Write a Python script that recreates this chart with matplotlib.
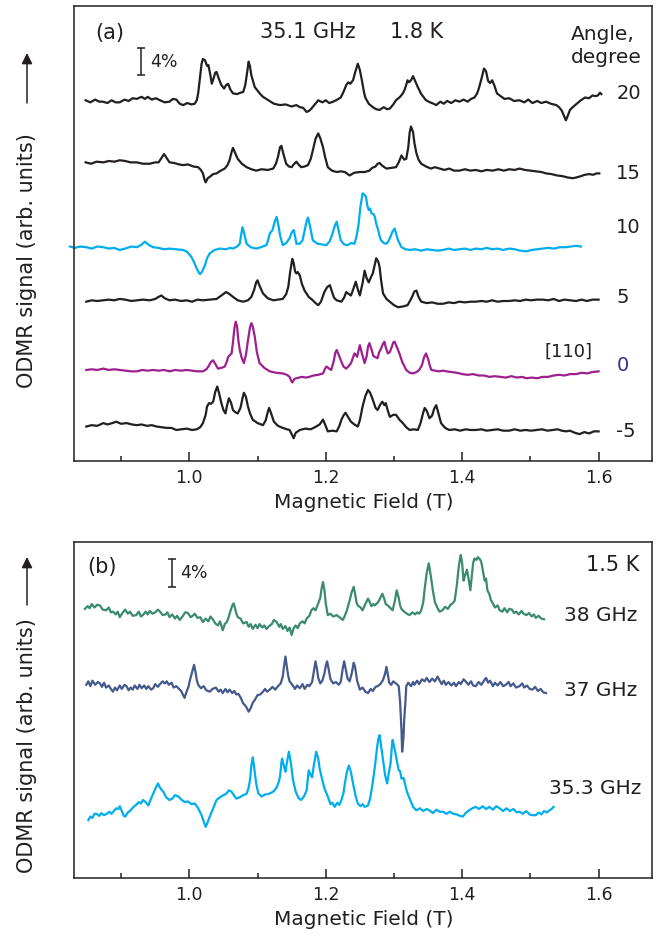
import matplotlib.pyplot as plt

plt.rcParams['font.family'] = ['DejaVu Sans']

INK = '#231f20'
CYAN = '#00aeef'
PURPLE = '#9e1f8e'
NAVY = '#2e3192'
GREEN = '#3a8a72'
SLATE = '#45598c'

# (a) 35.1 GHz, 1.8 K -- (field T, signal %) relative to each trace's baseline
angle_20 = [(0.848, 0.0), (0.855, -0.3), (0.862, 0.1), (0.868, -0.2), (0.873, -0.2), (0.880, -0.4),
            (0.886, 0.0), (0.892, -0.3), (0.898, -0.3), (0.905, 0.1), (0.911, -0.1), (0.917, 0.3),
            (0.923, 0.2), (0.930, 0.5), (0.935, 0.2), (0.939, 0.5), (0.945, 0.1), (0.951, 0.3),
            (0.957, 0.0), (0.964, -0.3), (0.971, -0.2), (0.976, 0.2), (0.981, 0.1), (0.986, -0.5),
            (0.991, -0.7), (0.997, -0.4), (1.003, -0.6), (1.008, -0.5), (1.011, 0.0), (1.013, 1.0),
            (1.016, 3.5), (1.018, 5.3), (1.020, 6.0), (1.023, 5.8), (1.026, 5.0), (1.028, 5.1),
            (1.031, 3.6), (1.033, 2.4), (1.036, 3.3), (1.038, 4.0), (1.040, 4.1), (1.043, 3.2),
            (1.047, 2.2), (1.051, 1.7), (1.054, 2.2), (1.057, 2.4), (1.060, 1.6), (1.064, 1.0),
            (1.070, 0.9), (1.075, 1.1), (1.079, 1.2), (1.082, 2.2), (1.084, 3.5), (1.087, 5.6),
            (1.089, 4.9), (1.091, 3.6), (1.094, 2.6), (1.096, 1.9), (1.100, 1.4), (1.104, 0.9),
            (1.108, 0.5), (1.116, 0.0), (1.124, -0.5), (1.133, -0.7), (1.141, -0.6), (1.150, -0.9),
            (1.157, -0.7), (1.162, -1.0), (1.167, -1.1), (1.172, -1.7), (1.176, -1.5), (1.179, -1.2),
            (1.184, -0.6), (1.189, 0.0), (1.195, -0.3), (1.200, 0.0), (1.205, -0.4), (1.211, -0.2),
            (1.217, 0.1), (1.222, 0.4), (1.226, 1.2), (1.230, 2.2), (1.233, 2.6), (1.236, 2.4),
            (1.240, 2.9), (1.243, 4.0), (1.247, 5.3), (1.250, 4.4), (1.253, 2.9), (1.256, 1.2),
            (1.258, 0.4), (1.263, -0.5), (1.269, -1.0), (1.274, -1.3), (1.279, -1.4), (1.285, -1.0),
            (1.290, -1.3), (1.294, -1.2), (1.299, -0.6), (1.303, 0.0), (1.309, 0.5), (1.313, 1.0),
            (1.316, 1.6), (1.320, 2.9), (1.322, 2.6), (1.325, 2.9), (1.328, 3.5), (1.331, 2.8),
            (1.335, 1.9), (1.340, 0.9), (1.347, 0.0), (1.353, -0.3), (1.358, -0.5), (1.362, -0.7),
            (1.368, -0.2), (1.373, -0.5), (1.378, -0.1), (1.384, -0.4), (1.390, 0.0), (1.396, -0.2),
            (1.402, 0.1), (1.408, -0.2), (1.413, 0.2), (1.418, 0.4), (1.422, 1.0), (1.425, 1.9),
            (1.429, 3.4), (1.432, 4.6), (1.435, 4.2), (1.438, 2.8), (1.441, 2.5), (1.444, 2.9),
            (1.447, 2.2), (1.451, 1.0), (1.455, 0.7), (1.462, 0.2), (1.469, 0.3), (1.476, -0.1),
            (1.484, 0.0), (1.491, -0.3), (1.497, 0.1), (1.503, -0.4), (1.510, -0.1), (1.516, -0.4),
            (1.523, -0.2), (1.530, -0.5), (1.538, -0.7), (1.542, -1.0), (1.546, -1.5), (1.549, -2.2),
            (1.552, -2.9), (1.555, -2.2), (1.558, -1.4), (1.562, -1.0), (1.568, -0.5), (1.574, 0.0),
            (1.580, 0.4), (1.586, 0.3), (1.591, 0.7), (1.595, 0.6), (1.599, 0.7), (1.602, 1.1),
            (1.604, 0.9)]
angle_15 = [(0.848, 0.0), (0.856, -0.2), (0.864, 0.1), (0.874, 0.0), (0.882, 0.2), (0.890, 0.1),
            (0.898, 0.3), (0.906, 0.2), (0.914, 0.0), (0.923, 0.0), (0.932, -0.2), (0.942, -0.2),
            (0.950, 0.0), (0.955, 0.0), (0.959, 0.6), (0.963, 1.2), (0.967, 0.6), (0.971, 0.0),
            (0.978, -0.1), (0.985, -0.3), (0.991, -0.4), (0.998, -0.3), (1.006, -0.6), (1.013, -0.7),
            (1.017, -1.1), (1.020, -1.6), (1.022, -2.4), (1.024, -2.9), (1.027, -2.3), (1.030, -2.1),
            (1.035, -1.7), (1.040, -1.6), (1.046, -1.2), (1.052, -0.9), (1.056, -0.4), (1.059, 0.3),
            (1.062, 1.5), (1.064, 2.1), (1.067, 1.4), (1.071, 0.5), (1.077, -0.2), (1.084, -0.7),
            (1.091, -1.0), (1.098, -1.2), (1.106, -1.0), (1.115, -1.1), (1.123, -0.9), (1.127, -0.2),
            (1.130, 0.8), (1.133, 2.2), (1.135, 2.4), (1.138, 1.2), (1.142, -0.2), (1.146, -0.6),
            (1.150, -0.7), (1.153, -0.3), (1.157, 0.1), (1.160, -0.3), (1.164, -0.7), (1.169, -0.6),
            (1.174, -0.4), (1.178, 0.5), (1.181, 1.7), (1.185, 3.4), (1.189, 4.2), (1.192, 3.5),
            (1.196, 2.2), (1.199, 0.8), (1.203, -0.7), (1.209, -1.2), (1.216, -1.4), (1.222, -1.3),
            (1.228, -1.4), (1.235, -1.9), (1.242, -1.5), (1.250, -1.4), (1.257, -1.4), (1.264, -1.2),
            (1.268, -0.8), (1.273, -0.6), (1.276, -0.2), (1.279, -0.1), (1.283, -0.5), (1.289, -0.9),
            (1.296, -0.8), (1.303, -0.7), (1.307, 0.0), (1.311, 1.0), (1.315, 0.4), (1.318, 0.5),
            (1.321, 2.2), (1.323, 4.3), (1.325, 5.2), (1.328, 4.4), (1.330, 2.8), (1.333, 1.3),
            (1.336, 0.4), (1.340, -0.2), (1.347, -0.6), (1.354, -0.9), (1.360, -0.7), (1.367, -0.9),
            (1.374, -1.1), (1.381, -0.9), (1.388, -1.2), (1.396, -1.2), (1.404, -1.0), (1.412, -1.2),
            (1.420, -1.1), (1.428, -1.3), (1.436, -1.1), (1.445, -1.2), (1.453, -1.0), (1.461, -1.2),
            (1.469, -1.0), (1.477, -1.1), (1.484, -0.9), (1.492, -1.1), (1.500, -1.2), (1.508, -1.3),
            (1.516, -1.4), (1.523, -1.6), (1.531, -1.7), (1.539, -1.9), (1.547, -2.0), (1.555, -2.2),
            (1.562, -2.3), (1.567, -2.2), (1.574, -2.0), (1.580, -1.8), (1.586, -1.7), (1.592, -1.8),
            (1.597, -1.6), (1.601, -1.6)]
angle_10 = [(0.825, 0.1), (0.832, -0.1), (0.840, 0.1), (0.849, 0.0), (0.857, -0.2), (0.865, 0.1),
            (0.874, 0.0), (0.882, -0.2), (0.890, -0.1), (0.898, -0.4), (0.906, -0.2), (0.915, 0.1),
            (0.923, 0.0), (0.929, 0.3), (0.935, 0.8), (0.941, 0.3), (0.947, 0.0), (0.955, -0.1),
            (0.963, -0.3), (0.971, -0.2), (0.980, -0.3), (0.991, -0.4), (0.997, -0.7), (1.003, -1.4),
            (1.007, -2.2), (1.011, -3.1), (1.014, -3.7), (1.016, -3.9), (1.019, -3.5), (1.023, -2.6),
            (1.026, -1.6), (1.030, -0.9), (1.037, -0.4), (1.045, -0.2), (1.053, -0.3), (1.060, -0.1),
            (1.064, -0.2), (1.070, 0.1), (1.074, 0.5), (1.076, 1.8), (1.078, 2.9), (1.080, 2.2),
            (1.084, 0.5), (1.090, 0.0), (1.098, -0.2), (1.105, 0.0), (1.113, 0.3), (1.116, 1.2),
            (1.118, 2.0), (1.122, 2.5), (1.125, 3.6), (1.128, 4.4), (1.131, 3.0), (1.133, 1.7),
            (1.137, 0.3), (1.142, 0.6), (1.147, 1.3), (1.150, 2.1), (1.153, 2.5), (1.155, 1.6),
            (1.157, 0.5), (1.162, 0.5), (1.166, 1.0), (1.169, 2.4), (1.172, 3.8), (1.174, 4.3),
            (1.177, 3.0), (1.181, 1.0), (1.188, 0.5), (1.195, 0.4), (1.201, 0.3), (1.206, 0.9),
            (1.209, 1.7), (1.213, 3.0), (1.216, 3.7), (1.219, 2.4), (1.222, 1.0), (1.227, 0.4),
            (1.232, 0.3), (1.237, 0.6), (1.242, 0.5), (1.245, 1.5), (1.248, 3.2), (1.251, 6.0),
            (1.254, 7.8), (1.257, 7.6), (1.259, 7.3), (1.261, 6.0), (1.263, 5.4), (1.265, 5.6),
            (1.267, 4.9), (1.270, 4.8), (1.272, 4.4), (1.274, 3.4), (1.276, 2.8), (1.279, 1.6),
            (1.281, 1.0), (1.285, 0.6), (1.289, 0.5), (1.292, 0.9), (1.294, 1.3), (1.298, 2.3),
            (1.301, 2.7), (1.303, 2.0), (1.306, 1.0), (1.311, 0.0), (1.317, -0.3), (1.323, -0.4),
            (1.331, -0.3), (1.340, -0.5), (1.348, -0.3), (1.356, -0.4), (1.364, -0.5), (1.372, -0.4),
            (1.380, -0.2), (1.388, -0.4), (1.396, -0.3), (1.404, -0.2), (1.412, -0.4), (1.420, -0.2),
            (1.428, -0.3), (1.436, -0.1), (1.444, -0.3), (1.452, -0.2), (1.460, -0.4), (1.469, -0.2),
            (1.477, -0.3), (1.485, -0.5), (1.494, -0.6), (1.502, -0.4), (1.510, -0.3), (1.518, -0.2),
            (1.526, -0.1), (1.535, -0.2), (1.543, 0.0), (1.552, 0.0), (1.560, 0.1), (1.567, 0.2),
            (1.574, 0.1)]
angle_5 = [(0.849, -0.2), (0.857, 0.0), (0.865, -0.1), (0.874, 0.0), (0.882, 0.1), (0.890, 0.0),
           (0.898, 0.2), (0.906, 0.1), (0.915, -0.1), (0.923, 0.0), (0.932, 0.1), (0.942, 0.0),
           (0.950, 0.2), (0.955, 0.5), (0.959, 0.7), (0.964, 0.3), (0.971, 0.0), (0.979, 0.1),
           (0.988, -0.1), (0.996, 0.0), (1.004, -0.2), (1.012, 0.1), (1.020, 0.0), (1.030, 0.1),
           (1.040, 0.2), (1.047, 0.7), (1.054, 1.2), (1.059, 0.9), (1.064, 0.5), (1.071, 0.0),
           (1.079, -0.2), (1.086, 0.0), (1.091, 0.5), (1.095, 1.5), (1.098, 2.6), (1.100, 2.9),
           (1.103, 2.1), (1.108, 1.0), (1.115, 0.3), (1.123, 0.0), (1.130, 0.1), (1.137, 0.2),
           (1.142, 0.9), (1.145, 1.9), (1.148, 4.2), (1.151, 6.0), (1.153, 5.4), (1.155, 4.2),
           (1.157, 3.9), (1.159, 4.1), (1.162, 3.6), (1.165, 2.4), (1.169, 1.4), (1.175, 0.5),
           (1.181, 0.0), (1.185, -0.4), (1.189, -0.7), (1.193, -0.2), (1.198, 1.2), (1.202, 1.9),
           (1.206, 2.2), (1.209, 1.3), (1.212, 0.4), (1.216, 0.0), (1.223, -0.2), (1.227, 0.4),
           (1.230, 1.2), (1.234, 0.9), (1.237, 0.7), (1.241, 1.8), (1.244, 2.7), (1.247, 1.6),
           (1.250, 0.7), (1.254, 2.5), (1.257, 4.3), (1.260, 3.2), (1.263, 2.6), (1.266, 3.3),
           (1.269, 3.9), (1.272, 5.2), (1.274, 6.1), (1.277, 5.6), (1.279, 4.8), (1.281, 3.0),
           (1.284, 1.0), (1.289, 0.2), (1.294, -0.2), (1.300, -0.7), (1.306, -1.0), (1.313, -0.9),
           (1.320, -0.7), (1.324, 0.0), (1.327, 0.6), (1.330, 1.3), (1.333, 1.4), (1.336, 0.5),
           (1.340, -0.2), (1.348, -0.4), (1.356, -0.3), (1.364, -0.5), (1.372, -0.5), (1.380, -0.3),
           (1.388, -0.4), (1.396, -0.2), (1.404, -0.3), (1.412, -0.2), (1.420, -0.2), (1.428, -0.1),
           (1.436, -0.2), (1.444, 0.0), (1.452, -0.2), (1.460, -0.1), (1.469, -0.1), (1.477, 0.0),
           (1.485, -0.1), (1.493, 0.1), (1.501, 0.0), (1.509, 0.1), (1.518, 0.1), (1.526, 0.0),
           (1.534, 0.2), (1.542, -0.1), (1.550, 0.1), (1.558, 0.0), (1.567, -0.1), (1.575, 0.1),
           (1.583, -0.1), (1.591, 0.1), (1.600, 0.1)]
angle_0 = [(0.849, 0.0), (0.857, 0.1), (0.865, 0.0), (0.874, 0.2), (0.882, 0.0), (0.890, 0.1),
           (0.898, 0.0), (0.906, -0.1), (0.915, -0.2), (0.923, -0.2), (0.931, 0.0), (0.939, -0.1),
           (0.947, 0.0), (0.955, -0.1), (0.963, 0.0), (0.971, -0.2), (0.979, 0.0), (0.988, -0.1),
           (0.996, 0.0), (1.004, -0.1), (1.012, -0.2), (1.020, -0.2), (1.025, 0.1), (1.028, 0.5),
           (1.032, 1.2), (1.035, 1.4), (1.038, 0.9), (1.042, 0.2), (1.047, 0.3), (1.052, 0.5),
           (1.055, 1.2), (1.057, 1.9), (1.060, 2.2), (1.062, 2.4), (1.064, 4.0), (1.066, 6.0),
           (1.068, 7.0), (1.070, 6.3), (1.072, 4.2), (1.074, 2.9), (1.077, 1.7), (1.080, 1.0),
           (1.083, 2.2), (1.086, 4.3), (1.089, 6.2), (1.091, 6.8), (1.093, 6.3), (1.096, 4.8),
           (1.099, 2.6), (1.103, 1.0), (1.110, 0.3), (1.118, -0.2), (1.127, -0.4), (1.137, -0.5),
           (1.143, -0.7), (1.147, -1.0), (1.149, -1.5), (1.151, -1.8), (1.154, -1.3), (1.157, -1.2),
           (1.165, -1.0), (1.171, -1.1), (1.176, -1.0), (1.182, -0.8), (1.189, -0.7), (1.196, -0.5),
           (1.199, 0.2), (1.201, 0.5), (1.205, 0.2), (1.208, 0.0), (1.212, 1.4), (1.214, 2.5),
           (1.216, 2.9), (1.219, 2.2), (1.223, 1.2), (1.226, 0.5), (1.230, 0.2), (1.234, 0.6),
           (1.237, 1.0), (1.240, 1.8), (1.242, 2.4), (1.244, 2.2), (1.246, 1.9), (1.248, 2.8),
           (1.250, 3.6), (1.253, 2.4), (1.257, 1.0), (1.260, 2.0), (1.262, 3.4), (1.264, 3.9),
           (1.267, 3.0), (1.270, 2.0), (1.272, 1.9), (1.276, 1.7), (1.278, 2.5), (1.281, 3.1),
           (1.284, 3.8), (1.286, 4.1), (1.288, 3.3), (1.291, 2.4), (1.294, 2.6), (1.297, 3.4),
           (1.299, 4.0), (1.301, 4.1), (1.304, 3.4), (1.308, 2.4), (1.312, 1.2), (1.318, 0.0),
           (1.323, -0.4), (1.328, -0.5), (1.333, -0.3), (1.337, 0.0), (1.341, 0.7), (1.344, 1.8),
           (1.347, 2.4), (1.350, 1.6), (1.353, 0.5), (1.355, 0.0), (1.360, -0.1), (1.366, -0.2),
           (1.372, -0.1), (1.377, -0.2), (1.385, -0.3), (1.392, -0.4), (1.400, -0.6), (1.408, -0.7),
           (1.416, -0.6), (1.424, -0.8), (1.432, -0.8), (1.440, -1.0), (1.448, -0.9), (1.456, -1.0),
           (1.464, -1.1), (1.472, -0.9), (1.480, -1.1), (1.488, -1.0), (1.494, -1.2), (1.502, -1.1),
           (1.510, -1.2), (1.518, -1.0), (1.526, -1.0), (1.534, -0.8), (1.542, -0.7), (1.550, -0.8),
           (1.558, -0.6), (1.567, -0.6), (1.575, -0.4), (1.583, -0.5), (1.591, -0.3), (1.600, -0.2)]
angle_m5 = [(0.849, -0.1), (0.857, 0.1), (0.865, 0.0), (0.874, 0.4), (0.880, 0.2), (0.887, 0.4),
            (0.893, 0.6), (0.900, 0.3), (0.908, 0.4), (0.916, 0.2), (0.923, 0.1), (0.930, 0.2),
            (0.938, 0.0), (0.945, 0.1), (0.952, -0.1), (0.960, -0.2), (0.967, -0.3), (0.974, -0.3),
            (0.981, -0.6), (0.989, -0.5), (0.996, -0.4), (1.004, -0.6), (1.011, -0.5), (1.016, -0.2),
            (1.020, 0.4), (1.024, 1.6), (1.026, 2.8), (1.029, 3.3), (1.032, 3.2), (1.035, 3.5),
            (1.038, 4.9), (1.041, 5.7), (1.044, 4.6), (1.047, 3.3), (1.050, 2.3), (1.053, 1.8),
            (1.055, 2.8), (1.058, 4.0), (1.061, 3.4), (1.064, 2.3), (1.067, 2.0), (1.071, 1.8),
            (1.075, 2.6), (1.078, 4.0), (1.080, 4.8), (1.083, 4.2), (1.086, 2.8), (1.089, 1.8),
            (1.093, 0.9), (1.100, 0.4), (1.108, 0.1), (1.112, 0.8), (1.115, 2.0), (1.117, 2.6),
            (1.120, 1.8), (1.124, 0.6), (1.130, 0.0), (1.137, -0.3), (1.143, -0.5), (1.147, -0.6),
            (1.150, -1.2), (1.153, -1.8), (1.156, -1.0), (1.162, -0.6), (1.170, -0.4), (1.178, -0.5),
            (1.186, -0.1), (1.191, 0.2), (1.196, 0.9), (1.199, 0.2), (1.203, -0.8), (1.210, -0.7),
            (1.216, -0.8), (1.220, 0.0), (1.223, 0.9), (1.226, 1.5), (1.229, 1.9), (1.232, 1.4),
            (1.237, 0.6), (1.242, 0.2), (1.247, -0.1), (1.250, 0.8), (1.254, 2.8), (1.258, 4.3),
            (1.262, 5.2), (1.265, 4.8), (1.269, 3.8), (1.273, 2.6), (1.276, 2.3), (1.280, 3.1),
            (1.283, 3.5), (1.286, 3.0), (1.288, 3.3), (1.291, 2.2), (1.294, 1.3), (1.299, 1.6),
            (1.303, 1.6), (1.308, 0.9), (1.313, 0.4), (1.318, -0.2), (1.323, -0.6), (1.329, -0.5),
            (1.335, -0.6), (1.339, 0.4), (1.342, 1.6), (1.345, 2.6), (1.348, 2.2), (1.352, 1.1),
            (1.356, 1.5), (1.359, 2.5), (1.362, 3.0), (1.365, 1.9), (1.369, 0.4), (1.375, -0.3),
            (1.381, -0.6), (1.389, -0.5), (1.397, -0.7), (1.405, -0.5), (1.412, -0.6), (1.420, -0.6),
            (1.428, -0.5), (1.436, -0.7), (1.444, -0.6), (1.452, -0.5), (1.460, -0.7), (1.469, -0.7),
            (1.477, -0.5), (1.485, -0.7), (1.493, -0.6), (1.501, -0.7), (1.509, -0.6), (1.517, -0.5),
            (1.525, -0.7), (1.533, -0.6), (1.540, -0.5), (1.546, -0.7), (1.552, -0.8), (1.558, -0.7),
            (1.565, -1.0), (1.572, -1.2), (1.579, -0.9), (1.586, -1.1), (1.593, -0.8), (1.600, -0.8)]

angles = ['20', '15', '10', '5', '0', '-5']
traces_a = [angle_20, angle_15, angle_10, angle_5, angle_0, angle_m5]

# (b) 1.5 K, three microwave frequencies
ghz_38 = [(0.847, 0.2), (0.851, 0.6), (0.854, 0.3), (0.857, 0.9), (0.861, 0.4), (0.865, 0.8),
          (0.869, 0.7), (0.873, 0.1), (0.878, 0.0), (0.882, 0.4), (0.885, -0.3), (0.888, -0.2),
          (0.892, -0.6), (0.895, -0.2), (0.898, -1.0), (0.902, -0.4), (0.906, 0.1), (0.910, -0.5),
          (0.913, -0.2), (0.917, -0.8), (0.922, -0.7), (0.926, -0.2), (0.929, -0.9), (0.932, -0.7),
          (0.936, -0.2), (0.939, -0.6), (0.942, -0.1), (0.946, -0.5), (0.950, -0.3), (0.954, 0.1),
          (0.957, -0.2), (0.961, -0.7), (0.965, -0.6), (0.968, -0.3), (0.971, -1.0), (0.975, -0.6),
          (0.979, -1.2), (0.982, -0.8), (0.986, -1.4), (0.990, -0.9), (0.994, -0.3), (0.998, -0.4),
          (1.002, -1.0), (1.005, -0.8), (1.008, -0.5), (1.012, -1.1), (1.016, -1.0), (1.020, -1.7),
          (1.024, -1.2), (1.028, -1.6), (1.031, -0.9), (1.035, -1.4), (1.038, -1.9), (1.042, -2.2),
          (1.045, -1.6), (1.049, -2.9), (1.052, -2.0), (1.055, -1.7), (1.057, -1.2), (1.060, -0.2),
          (1.063, 0.7), (1.065, 1.0), (1.067, 0.3), (1.069, -0.5), (1.071, -1.0), (1.075, -1.2),
          (1.079, -1.9), (1.084, -1.7), (1.087, -2.4), (1.090, -2.0), (1.093, -2.7), (1.097, -2.1),
          (1.100, -2.6), (1.103, -2.0), (1.107, -2.5), (1.110, -2.2), (1.113, -2.7), (1.117, -2.3),
          (1.121, -2.0), (1.124, -1.4), (1.128, -1.7), (1.132, -2.4), (1.134, -2.0), (1.137, -2.7),
          (1.141, -2.3), (1.144, -3.0), (1.147, -2.5), (1.150, -3.6), (1.153, -2.6), (1.156, -2.2),
          (1.159, -2.6), (1.162, -1.9), (1.166, -1.6), (1.169, -1.9), (1.172, -1.2), (1.176, -0.8),
          (1.179, 0.0), (1.182, 0.3), (1.185, 0.0), (1.189, 1.0), (1.192, 1.8), (1.194, 3.2),
          (1.196, 4.1), (1.198, 3.0), (1.200, 1.0), (1.203, -0.7), (1.207, -0.5), (1.211, -0.9),
          (1.216, -0.7), (1.220, -1.0), (1.225, -1.4), (1.228, -0.8), (1.231, 0.0), (1.235, 1.4),
          (1.238, 2.6), (1.241, 3.4), (1.243, 2.4), (1.245, 1.2), (1.247, 0.7), (1.251, 0.4),
          (1.254, 0.0), (1.258, 0.9), (1.262, 1.7), (1.264, 1.3), (1.267, 0.6), (1.270, 0.9),
          (1.272, 0.7), (1.277, 1.2), (1.280, 1.8), (1.283, 2.4), (1.286, 1.6), (1.288, 0.9),
          (1.291, 0.7), (1.294, 0.4), (1.298, 0.0), (1.301, 1.2), (1.304, 2.9), (1.307, 1.8),
          (1.309, 0.7), (1.311, 0.2), (1.315, -0.2), (1.319, -0.5), (1.323, -0.7), (1.327, -0.3),
          (1.331, -0.6), (1.334, -0.3), (1.337, -0.5), (1.340, 0.0), (1.343, 1.2), (1.345, 3.1),
          (1.348, 5.4), (1.351, 6.8), (1.354, 5.0), (1.357, 2.9), (1.360, 1.2), (1.364, 0.3),
          (1.367, -0.2), (1.371, 0.0), (1.375, 0.5), (1.379, 0.2), (1.383, 0.8), (1.386, 1.0),
          (1.389, 1.4), (1.392, 3.5), (1.395, 6.3), (1.397, 7.6), (1.398, 8.0), (1.400, 6.8),
          (1.402, 4.3), (1.404, 5.0), (1.407, 5.9), (1.409, 4.8), (1.412, 2.9), (1.414, 4.8),
          (1.416, 6.8), (1.418, 7.5), (1.421, 7.3), (1.423, 7.7), (1.426, 7.4), (1.428, 7.0),
          (1.430, 5.9), (1.433, 4.3), (1.435, 4.6), (1.437, 2.9), (1.440, 2.3), (1.442, 1.5),
          (1.445, 1.0), (1.448, 0.4), (1.452, 0.7), (1.455, 0.0), (1.459, -0.2), (1.462, 0.3),
          (1.466, -0.3), (1.469, 0.2), (1.473, 0.1), (1.476, -0.4), (1.479, -0.2), (1.483, -0.6),
          (1.487, -0.1), (1.490, -0.5), (1.494, -0.7), (1.498, -0.4), (1.502, -0.9), (1.505, -0.6),
          (1.508, -1.1), (1.512, -0.8), (1.516, -1.2), (1.520, -1.3)]
ghz_37 = [(0.849, 0.0), (0.852, 0.5), (0.855, -0.2), (0.858, 0.6), (0.862, 0.0), (0.866, 0.4),
          (0.869, 0.2), (0.872, -0.3), (0.875, 0.3), (0.878, -0.4), (0.882, -0.1), (0.885, -0.6),
          (0.888, -1.0), (0.891, -0.4), (0.894, -0.8), (0.898, -0.1), (0.901, -0.6), (0.905, 0.0),
          (0.908, -0.2), (0.911, -0.8), (0.914, -0.4), (0.917, -0.7), (0.920, -0.1), (0.924, -0.6),
          (0.927, 0.0), (0.930, -0.5), (0.934, -0.1), (0.937, -0.6), (0.940, -0.2), (0.944, -0.7),
          (0.947, -0.5), (0.950, 0.1), (0.954, -0.3), (0.957, 0.1), (0.961, 0.5), (0.964, 0.2),
          (0.967, 0.5), (0.970, 0.0), (0.974, 0.3), (0.977, -0.4), (0.981, -0.2), (0.985, -0.6),
          (0.988, -0.9), (0.991, -1.5), (0.993, -1.9), (0.996, -1.0), (0.999, -0.2), (1.001, 0.7),
          (1.004, 1.8), (1.007, 2.9), (1.009, 1.9), (1.011, 0.7), (1.013, 0.0), (1.017, -0.5),
          (1.021, -0.2), (1.025, -0.8), (1.030, -1.0), (1.034, -0.6), (1.039, -0.4), (1.043, -1.0),
          (1.046, -0.7), (1.049, -1.2), (1.053, -0.6), (1.056, -1.1), (1.059, -0.7), (1.063, -1.2),
          (1.066, -0.9), (1.069, -1.4), (1.072, -1.3), (1.076, -2.0), (1.079, -2.7), (1.082, -3.0),
          (1.085, -3.5), (1.087, -3.9), (1.090, -3.4), (1.093, -2.6), (1.096, -2.2), (1.100, -1.5),
          (1.104, -1.4), (1.108, -1.0), (1.111, -0.6), (1.114, -1.0), (1.118, -0.7), (1.122, -0.3),
          (1.126, -0.7), (1.130, -0.2), (1.134, 0.2), (1.137, 1.2), (1.139, 2.8), (1.141, 4.1),
          (1.143, 2.6), (1.145, 1.3), (1.147, 0.5), (1.151, 0.0), (1.155, -0.6), (1.158, -0.1),
          (1.162, -0.5), (1.166, 0.1), (1.169, -0.6), (1.173, 0.0), (1.176, -0.2), (1.180, 0.4),
          (1.183, 2.2), (1.185, 3.4), (1.187, 2.4), (1.189, 1.0), (1.192, 0.2), (1.195, 0.6),
          (1.198, 1.6), (1.200, 2.7), (1.202, 3.4), (1.204, 2.4), (1.207, 0.8), (1.211, 0.2),
          (1.215, 0.4), (1.219, 0.0), (1.222, 0.4), (1.225, 2.4), (1.227, 3.4), (1.229, 2.4),
          (1.232, 0.9), (1.235, 0.5), (1.238, 1.6), (1.241, 3.2), (1.243, 2.6), (1.246, 0.6),
          (1.250, -0.7), (1.254, -0.4), (1.258, -1.0), (1.262, -1.2), (1.266, -0.6), (1.269, -0.9),
          (1.273, -0.3), (1.276, -0.2), (1.280, 0.1), (1.284, 0.7), (1.287, 1.6), (1.289, 2.6),
          (1.291, 1.5), (1.293, 0.3), (1.296, 0.0), (1.299, 0.5), (1.303, 0.2), (1.307, -0.2),
          (1.309, -2.5), (1.311, -6.5), (1.312, -9.7), (1.314, -7.6), (1.315, -5.1), (1.317, -2.2),
          (1.318, -0.2), (1.321, 0.3), (1.325, -0.2), (1.328, 0.4), (1.330, 0.0), (1.334, 0.6),
          (1.337, 0.1), (1.341, 0.8), (1.345, 0.5), (1.348, 1.0), (1.352, 0.4), (1.356, 0.9),
          (1.360, 0.5), (1.364, 1.2), (1.367, 0.6), (1.370, 0.1), (1.373, 0.6), (1.376, 0.0),
          (1.380, 0.4), (1.384, -0.1), (1.388, 0.3), (1.391, -0.2), (1.395, 0.4), (1.398, 0.1),
          (1.402, 0.8), (1.405, 0.5), (1.409, 0.0), (1.413, 0.5), (1.416, -0.1), (1.420, -0.2),
          (1.424, 0.4), (1.428, 0.0), (1.432, 0.6), (1.435, 1.0), (1.438, 0.3), (1.441, 0.6),
          (1.445, -0.2), (1.448, 0.3), (1.452, -0.1), (1.456, 0.4), (1.460, -0.2), (1.464, 0.0),
          (1.468, 0.4), (1.471, -0.2), (1.475, 0.2), (1.479, -0.4), (1.484, -0.2), (1.488, 0.2),
          (1.491, -0.4), (1.495, -0.1), (1.499, -0.6), (1.503, -0.7), (1.507, -0.3), (1.511, -0.9),
          (1.515, -0.6), (1.519, -1.1), (1.523, -1.2)]
ghz_353 = [(0.852, -0.7), (0.855, -0.2), (0.858, -0.4), (0.861, 0.2), (0.864, 0.2), (0.868, -0.1),
           (0.871, 0.3), (0.875, 0.0), (0.879, 0.2), (0.883, 0.5), (0.886, 0.2), (0.890, 0.7),
           (0.893, 1.0), (0.896, 0.9), (0.898, 1.3), (0.901, 0.6), (0.904, -0.1), (0.906, -0.2),
           (0.910, 0.4), (0.914, 0.7), (0.918, 1.2), (0.922, 1.5), (0.926, 1.9), (0.929, 1.7),
           (0.932, 2.2), (0.936, 1.9), (0.940, 1.4), (0.943, 2.2), (0.947, 3.1), (0.951, 4.0),
           (0.954, 4.6), (0.957, 4.0), (0.960, 3.6), (0.962, 3.4), (0.966, 2.6), (0.971, 2.2),
           (0.975, 2.4), (0.979, 2.9), (0.984, 2.7), (0.988, 2.3), (0.993, 1.9), (0.998, 2.0),
           (1.003, 1.6), (1.008, 1.7), (1.013, 1.0), (1.018, 0.0), (1.021, -0.9), (1.024, -1.7),
           (1.027, -1.0), (1.030, -0.2), (1.035, 1.0), (1.040, 2.2), (1.045, 2.6), (1.050, 2.9),
           (1.054, 3.1), (1.058, 3.6), (1.062, 3.4), (1.066, 2.8), (1.069, 2.4), (1.074, 2.6),
           (1.079, 2.9), (1.084, 3.1), (1.087, 4.0), (1.089, 5.1), (1.091, 7.2), (1.093, 8.4),
           (1.095, 7.0), (1.098, 4.6), (1.101, 3.2), (1.106, 2.7), (1.111, 3.0), (1.117, 3.1),
           (1.123, 3.4), (1.128, 4.0), (1.131, 4.8), (1.133, 5.6), (1.135, 7.6), (1.136, 8.2),
           (1.139, 7.0), (1.141, 6.3), (1.143, 7.6), (1.146, 9.2), (1.149, 7.5), (1.152, 5.1),
           (1.156, 3.4), (1.160, 2.5), (1.164, 2.2), (1.168, 2.7), (1.172, 3.6), (1.174, 5.5),
           (1.175, 6.5), (1.178, 5.8), (1.180, 5.5), (1.183, 7.5), (1.186, 9.2), (1.189, 8.2),
           (1.191, 6.8), (1.194, 5.5), (1.198, 3.9), (1.203, 2.7), (1.207, 1.6), (1.210, 1.8),
           (1.213, 1.2), (1.217, 1.8), (1.220, 1.5), (1.223, 2.2), (1.226, 3.2), (1.228, 4.6),
           (1.231, 6.3), (1.234, 7.2), (1.237, 6.2), (1.240, 4.6), (1.244, 2.7), (1.247, 1.7),
           (1.251, 1.3), (1.254, 1.6), (1.257, 1.2), (1.262, 1.4), (1.265, 2.4), (1.268, 4.1),
           (1.272, 7.0), (1.275, 9.6), (1.277, 11.0), (1.279, 11.6), (1.281, 10.2), (1.284, 8.0),
           (1.287, 5.8), (1.290, 4.6), (1.292, 5.9), (1.295, 7.5), (1.297, 10.0), (1.298, 10.9),
           (1.301, 9.6), (1.304, 8.0), (1.307, 6.5), (1.309, 6.4), (1.311, 5.3), (1.314, 5.4),
           (1.316, 4.6), (1.319, 3.4), (1.323, 2.4), (1.328, 1.2), (1.333, 0.7), (1.338, 1.0),
           (1.343, 0.6), (1.348, 0.9), (1.352, 0.7), (1.357, 0.3), (1.362, 0.8), (1.367, 0.5),
           (1.372, 0.5), (1.377, 0.2), (1.382, 0.5), (1.387, 0.2), (1.392, 0.1), (1.397, -0.1),
           (1.401, -0.2), (1.405, 0.3), (1.410, 0.7), (1.415, 1.0), (1.420, 1.2), (1.425, 0.9),
           (1.430, 1.3), (1.435, 0.9), (1.440, 1.2), (1.445, 0.8), (1.450, 1.3), (1.455, 1.0),
           (1.460, 0.6), (1.465, 1.0), (1.470, 0.6), (1.475, 0.9), (1.480, 0.4), (1.484, 0.5),
           (1.489, 0.2), (1.494, 0.6), (1.499, 0.1), (1.503, 0.0), (1.508, 0.0), (1.512, 0.4),
           (1.516, 0.1), (1.520, 0.6), (1.524, 0.4), (1.528, 0.7), (1.531, 0.9), (1.534, 1.2)]

freqs = ['38 GHz', '37 GHz', '35.3 GHz']
traces_b = [ghz_38, ghz_37, ghz_353]


def style_axis(ax, ytop):
    ax.set_xlim(0.831, 1.679)
    ax.set_ylim(0, ytop)
    ax.set_yticks([])
    ax.set_xticks([1.0, 1.2, 1.4, 1.6])
    ax.set_xticklabels(['1.0', '1.2', '1.4', '1.6'])
    ax.set_xticks([0.9, 1.1, 1.3, 1.5], minor=True)
    ax.tick_params(axis='x', which='major', direction='in', length=6.5, width=1.1,
                   pad=6, labelsize=12.5, colors=INK)
    ax.tick_params(axis='x', which='minor', direction='in', length=3.3, width=1.1, colors=INK)
    for sp in ax.spines.values():
        sp.set_linewidth(1.1)
        sp.set_color(INK)
    ax.set_xlabel('Magnetic Field (T)', fontsize=14.5, color=INK, labelpad=4)


def scale_bar(ax, x, y0, text_x):
    ax.errorbar([x], [y0 + 2], yerr=2, color=INK, lw=1.1, capsize=3, capthick=1.1)
    ax.text(text_x, y0 + 2, '4%', fontsize=12.5, color=INK, ha='left', va='center')


def draw_traces(ax, traces, baselines, colors):
    for trace, base, color in zip(traces, baselines, colors):
        b, s = zip(*trace)
        ax.plot(b, [base + v for v in s], color=color, lw=1.6, clip_on=False,
                solid_joinstyle='round')


def side_label(fig, y_text, y_tail, y_tip):
    fig.text(0.0406, y_text, 'ODMR signal (arb. units)', rotation=90, fontsize=15,
             color=INK, ha='center', va='center')
    fig.add_artist(plt.Annotation('', xy=(0.0406, y_tip), xytext=(0.0406, y_tail),
                                  xycoords='figure fraction',
                                  arrowprops=dict(arrowstyle='-|>', color=INK, lw=1.1,
                                                  mutation_scale=16, shrinkA=0, shrinkB=0)))


def main():
    fig = plt.figure(figsize=(6.65, 9.38), dpi=100)
    ax_a = fig.add_axes([0.1113, 0.5085, 0.8699, 0.4846])
    ax_b = fig.add_axes([0.1113, 0.0640, 0.8699, 0.3582])

    # panel (a)
    style_axis(ax_a, 65.9)
    draw_traces(ax_a, traces_a, [52.3, 43.3, 31.0, 23.3, 13.2, 5.1],
                [INK, INK, CYAN, INK, PURPLE, INK])
    for name, y in zip(angles, [53.3, 41.7, 33.8, 23.7, 13.8, 4.3]):
        ax_a.text(1.626, y, name, fontsize=14, ha='left', va='center',
                  color=NAVY if name == '0' else INK)
    ax_a.text(1.520, 15.9, '[110]', fontsize=13, ha='left', va='center', color=INK)
    ax_a.text(1.560, 63.2, 'Angle,\ndegree', fontsize=14.5, ha='left', va='top',
              color=INK, linespacing=1.25)
    ax_a.text(0.862, 62.0, '(a)', fontsize=15, ha='left', va='center', color=INK)
    ax_a.text(1.103, 62.2, '35.1 GHz', fontsize=15, ha='left', va='center', color=INK)
    ax_a.text(1.294, 62.2, '1.8 K', fontsize=15, ha='left', va='center', color=INK)
    scale_bar(ax_a, 0.929, 55.9, 0.942)

    # panel (b)
    style_axis(ax_b, 48.7)
    draw_traces(ax_b, traces_b, [38.8, 28.0, 9.1], [GREEN, SLATE, CYAN])
    for name, x, y in zip(freqs, [1.550, 1.550, 1.528], [38.0, 27.1, 13.0]):
        ax_b.text(x, y, name, fontsize=14.5, ha='left', va='center', color=INK)
    ax_b.text(0.850, 45.1, '(b)', fontsize=15, ha='left', va='center', color=INK)
    ax_b.text(1.582, 45.4, '1.5 K', fontsize=15, ha='left', va='center', color=INK)
    scale_bar(ax_b, 0.975, 42.2, 0.986)

    side_label(fig, 1 - 261 / 938, 1 - 103 / 938, 1 - 53 / 938)
    side_label(fig, 1 - 746 / 938, 1 - 605 / 938, 1 - 557 / 938)

    fig.savefig('out.png', dpi=100)


if __name__ == '__main__':
    main()
